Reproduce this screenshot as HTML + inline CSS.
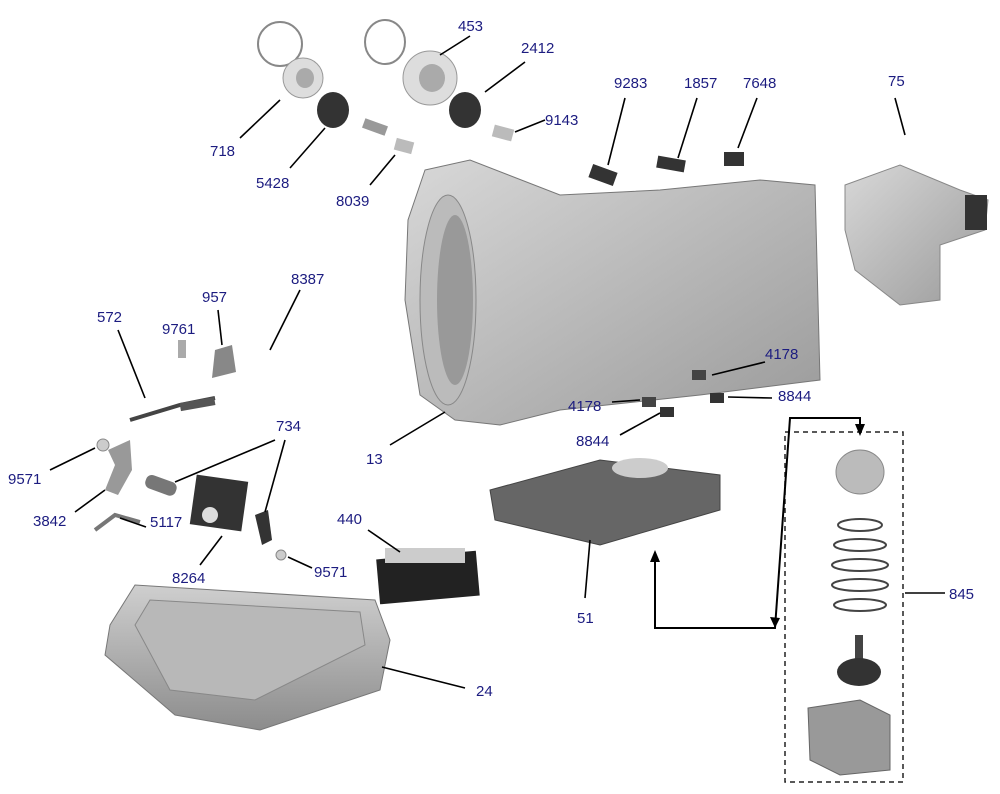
<!DOCTYPE html>
<html><head><style>
html,body{margin:0;padding:0;background:#fff;}
svg{display:block;}
text{font-family:"Liberation Sans",Arial,sans-serif;font-size:15px;fill:#1c1c80;}
</style></head><body>
<svg width="1000" height="794" viewBox="0 0 1000 794" xmlns="http://www.w3.org/2000/svg">
<defs>
<linearGradient id="g1" x1="0" y1="0" x2="1" y2="1"><stop offset="0" stop-color="#d8d8d8"/><stop offset="1" stop-color="#9a9a9a"/></linearGradient>
<linearGradient id="g2" x1="0" y1="0" x2="0" y2="1"><stop offset="0" stop-color="#cfcfcf"/><stop offset="1" stop-color="#8c8c8c"/></linearGradient>
</defs>
<ellipse cx="280" cy="44" rx="22" ry="22" fill="none" stroke="#888" stroke-width="2"/>
<ellipse cx="385" cy="42" rx="20" ry="22" fill="none" stroke="#888" stroke-width="2"/>
<ellipse cx="303" cy="78" rx="20" ry="20" fill="#ddd" stroke="#999"/>
<ellipse cx="305" cy="78" rx="9" ry="10" fill="#aaa"/>
<ellipse cx="430" cy="78" rx="27" ry="27" fill="#ddd" stroke="#999"/>
<ellipse cx="432" cy="78" rx="13" ry="14" fill="#aaa"/>
<ellipse cx="333" cy="110" rx="16" ry="18" fill="#333"/>
<ellipse cx="465" cy="110" rx="16" ry="18" fill="#333"/>
<rect x="363" y="122" width="24" height="10" fill="#999" transform="rotate(20 375 127)"/>
<rect x="395" y="140" width="18" height="12" fill="#bbb" transform="rotate(15 404 146)"/>
<rect x="493" y="127" width="20" height="12" fill="#bbb" transform="rotate(15 503 133)"/>
<rect x="590" y="168" width="26" height="14" fill="#333" transform="rotate(20 603 175)"/>
<rect x="657" y="158" width="28" height="12" fill="#333" transform="rotate(10 671 164)"/>
<rect x="724" y="152" width="20" height="14" fill="#333"/>
<path d="M425 170 L470 160 L560 195 L660 190 L760 180 L815 185 L820 380 L700 395 L560 410 L500 425 L455 420 L420 395 L405 300 L408 220 Z" fill="url(#g1)" stroke="#777"/>
<ellipse cx="448" cy="300" rx="28" ry="105" fill="#bbb" stroke="#888"/>
<ellipse cx="455" cy="300" rx="18" ry="85" fill="#999"/>
<path d="M845 185 L900 165 L960 190 L988 200 L985 230 L940 245 L940 300 L900 305 L855 270 L845 230 Z" fill="url(#g1)" stroke="#888"/>
<rect x="965" y="195" width="22" height="35" fill="#333"/>
<rect x="178" y="340" width="8" height="18" fill="#aaa"/>
<path d="M215 350 L232 345 L236 372 L212 378 Z" fill="#888"/>
<path d="M130 420 L180 405 L215 398" stroke="#444" stroke-width="4" fill="none"/>
<rect x="180" y="400" width="35" height="8" fill="#555" transform="rotate(-10 198 404)"/>
<circle cx="103" cy="445" r="6" fill="#ccc" stroke="#888"/>
<path d="M108 450 L130 440 L132 470 L118 495 L105 490 L115 465 Z" fill="#999"/>
<path d="M95 530 L115 515 L140 522" stroke="#777" stroke-width="4" fill="none"/>
<rect x="145" y="478" width="32" height="14" rx="6" fill="#777" transform="rotate(20 160 485)"/>
<rect x="193" y="478" width="52" height="50" fill="#333" transform="rotate(8 219 503)"/>
<circle cx="210" cy="515" r="8" fill="#ddd"/>
<path d="M255 515 L268 510 L272 540 L262 545 Z" fill="#333"/>
<circle cx="281" cy="555" r="5" fill="#ccc" stroke="#888"/>
<rect x="378" y="555" width="100" height="45" fill="#222" transform="rotate(-5 428 578)"/>
<rect x="385" y="548" width="80" height="15" fill="#ccc"/>
<path d="M490 490 L600 460 L720 475 L720 510 L600 545 L495 520 Z" fill="#666" stroke="#444"/>
<ellipse cx="640" cy="468" rx="28" ry="10" fill="#ccc"/>
<rect x="692" y="370" width="14" height="10" fill="#444"/>
<rect x="642" y="397" width="14" height="10" fill="#444"/>
<rect x="710" y="393" width="14" height="10" fill="#333"/>
<rect x="660" y="407" width="14" height="10" fill="#333"/>
<path d="M110 625 L135 585 L375 600 L390 640 L380 690 L260 730 L175 715 L105 655 Z" fill="url(#g2)" stroke="#777"/>
<path d="M135 625 L150 600 L360 612 L365 645 L255 700 L170 690 Z" fill="#b8b8b8" stroke="#888"/>
<rect x="785" y="432" width="118" height="350" fill="none" stroke="#222" stroke-width="1.5" stroke-dasharray="5,4"/>
<ellipse cx="860" cy="472" rx="24" ry="22" fill="#bbb" stroke="#888"/>
<g fill="none" stroke="#444" stroke-width="2">
<ellipse cx="860" cy="525" rx="22" ry="6"/><ellipse cx="860" cy="545" rx="26" ry="6"/><ellipse cx="860" cy="565" rx="28" ry="6"/><ellipse cx="860" cy="585" rx="28" ry="6"/><ellipse cx="860" cy="605" rx="26" ry="6"/>
</g>
<rect x="855" y="635" width="8" height="25" fill="#444"/>
<ellipse cx="859" cy="672" rx="22" ry="14" fill="#333"/>
<path d="M808 708 L860 700 L890 715 L890 770 L840 775 L810 760 Z" fill="#999" stroke="#666"/>
<g stroke="#000" stroke-width="2" fill="none">
<polyline points="655,558 655,628 775,628 790,418 860,418 860,430"/>
</g>
<polygon points="655,550 650,562 660,562" fill="#000"/>
<polygon points="860,436 855,424 865,424" fill="#000"/>
<polygon points="775,628 770,617 780,618" fill="#000"/>
<g stroke="#000" stroke-width="1.6">
<line x1="470" y1="36" x2="440" y2="55"/>
<line x1="525" y1="62" x2="485" y2="92"/>
<line x1="545" y1="120" x2="515" y2="132"/>
<line x1="240" y1="138" x2="280" y2="100"/>
<line x1="290" y1="168" x2="325" y2="128"/>
<line x1="370" y1="185" x2="395" y2="155"/>
<line x1="625" y1="98" x2="608" y2="165"/>
<line x1="697" y1="98" x2="678" y2="158"/>
<line x1="757" y1="98" x2="738" y2="148"/>
<line x1="895" y1="98" x2="905" y2="135"/>
<line x1="300" y1="290" x2="270" y2="350"/>
<line x1="218" y1="310" x2="222" y2="345"/>
<line x1="118" y1="330" x2="145" y2="398"/>
<line x1="765" y1="362" x2="712" y2="375"/>
<line x1="612" y1="402" x2="640" y2="400"/>
<line x1="772" y1="398" x2="728" y2="397"/>
<line x1="620" y1="435" x2="660" y2="413"/>
<line x1="390" y1="445" x2="445" y2="412"/>
<line x1="275" y1="440" x2="175" y2="482"/>
<line x1="285" y1="440" x2="265" y2="512"/>
<line x1="50" y1="470" x2="95" y2="448"/>
<line x1="75" y1="512" x2="105" y2="490"/>
<line x1="146" y1="527" x2="120" y2="518"/>
<line x1="200" y1="565" x2="222" y2="536"/>
<line x1="312" y1="568" x2="288" y2="557"/>
<line x1="368" y1="530" x2="400" y2="552"/>
<line x1="585" y1="598" x2="590" y2="540"/>
<line x1="945" y1="593" x2="905" y2="593"/>
<line x1="465" y1="688" x2="382" y2="667"/>
</g>
<text x="458" y="31">453</text>
<text x="521" y="53">2412</text>
<text x="545" y="125">9143</text>
<text x="210" y="156">718</text>
<text x="256" y="188">5428</text>
<text x="336" y="206">8039</text>
<text x="614" y="88">9283</text>
<text x="684" y="88">1857</text>
<text x="743" y="88">7648</text>
<text x="888" y="86">75</text>
<text x="291" y="284">8387</text>
<text x="202" y="302">957</text>
<text x="162" y="334">9761</text>
<text x="97" y="322">572</text>
<text x="765" y="359">4178</text>
<text x="568" y="411">4178</text>
<text x="778" y="401">8844</text>
<text x="576" y="446">8844</text>
<text x="366" y="464">13</text>
<text x="276" y="431">734</text>
<text x="8" y="484">9571</text>
<text x="33" y="526">3842</text>
<text x="150" y="527">5117</text>
<text x="337" y="524">440</text>
<text x="172" y="583">8264</text>
<text x="314" y="577">9571</text>
<text x="577" y="623">51</text>
<text x="949" y="599">845</text>
<text x="476" y="696">24</text>
</svg>
</body></html>
